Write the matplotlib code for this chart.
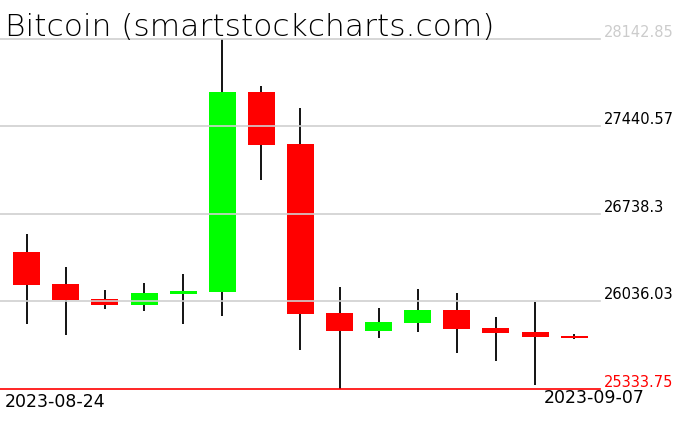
import matplotlib
matplotlib.use("Agg")
import matplotlib.pyplot as plt
import matplotlib.transforms as mtransforms

# Daily OHLC values
dates = ["2023-08-24", "2023-08-25", "2023-08-26", "2023-08-27", "2023-08-28",
         "2023-08-29", "2023-08-30", "2023-08-31", "2023-09-01", "2023-09-02",
         "2023-09-03", "2023-09-04", "2023-09-05", "2023-09-06", "2023-09-07"]
opens = [26433, 26177, 26056, 26010, 26098, 26115, 27717, 27300, 25946, 25802,
         25866, 25968, 25823, 25791, 25759]
highs = [26578, 26313, 26128, 26184, 26257, 28142.85, 27763, 27589, 26152, 25984,
         26136, 26104, 25909, 26032, 25775]
lows = [25858, 25770, 25978, 25962, 25858, 25917, 27014, 25649, 25333.75, 25745,
        25794, 25625, 25561, 25368, 25735]
closes = [26171, 26050, 26010, 26104, 26120, 27717, 27294, 25938, 25802, 25871,
          25968, 25818, 25786, 25754, 25743]

# Price levels shown on the right
levels = [28142.85, 27440.575, 26738.3, 26036.025, 25333.75]
level_labels = ["28142.85", "27440.57", "26738.3", "26036.03", "25333.75"]
level_colors = ["#cccccc", "black", "black", "black", "red"]

fig = plt.figure(figsize=(6.76, 4.31), dpi=100)
ax = fig.add_axes([0, 41 / 431, 600 / 676, 350 / 431])

x = list(range(len(dates)))
up = [c >= o for o, c in zip(opens, closes)]
colors = ["#00ff00" if u else "#ff0000" for u in up]
bottoms = [min(o, c) for o, c in zip(opens, closes)]
heights = [max(abs(c - o), 15) for o, c in zip(opens, closes)]

ax.vlines(x, lows, highs, color="black", linewidth=1.3, zorder=1)
ax.bar(x, heights, bottom=bottoms, width=0.69, color=colors, zorder=2)

# grid lines are drawn over the candles
for lv, col in zip(levels, level_colors):
    ax.axhline(lv, color="red" if col == "red" else "#d0d0d0", linewidth=1.2,
               zorder=3, clip_on=False)

ax.set_xlim(-0.683, 14.66)
ax.set_ylim(levels[-1], levels[0])
for s in ax.spines.values():
    s.set_visible(False)
ax.set_xticks([])
ax.set_yticks([])

# right-hand price labels
trans = mtransforms.blended_transform_factory(ax.transAxes, ax.transData)
for lv, lab, col in zip(levels, level_labels, level_colors):
    ax.text(1.007, lv, lab, transform=trans, ha="left", va="bottom",
            fontsize=10.5, color=col, clip_on=False)

# first and last date labels
ax.text(5 / 600, -0.008, dates[0], transform=ax.transAxes, ha="left", va="top",
        fontsize=12.5, clip_on=False)
ax.text(645 / 600, 0.004, dates[-1], transform=ax.transAxes, ha="right", va="top",
        fontsize=12.5, clip_on=False)

fig.text(5 / 676, 1 - 36 / 431, "Bitcoin (smartstockcharts.com)", ha="left",
         va="baseline", fontsize=22.5, fontweight="light", color="black")

fig.savefig("out.png", dpi=100)
